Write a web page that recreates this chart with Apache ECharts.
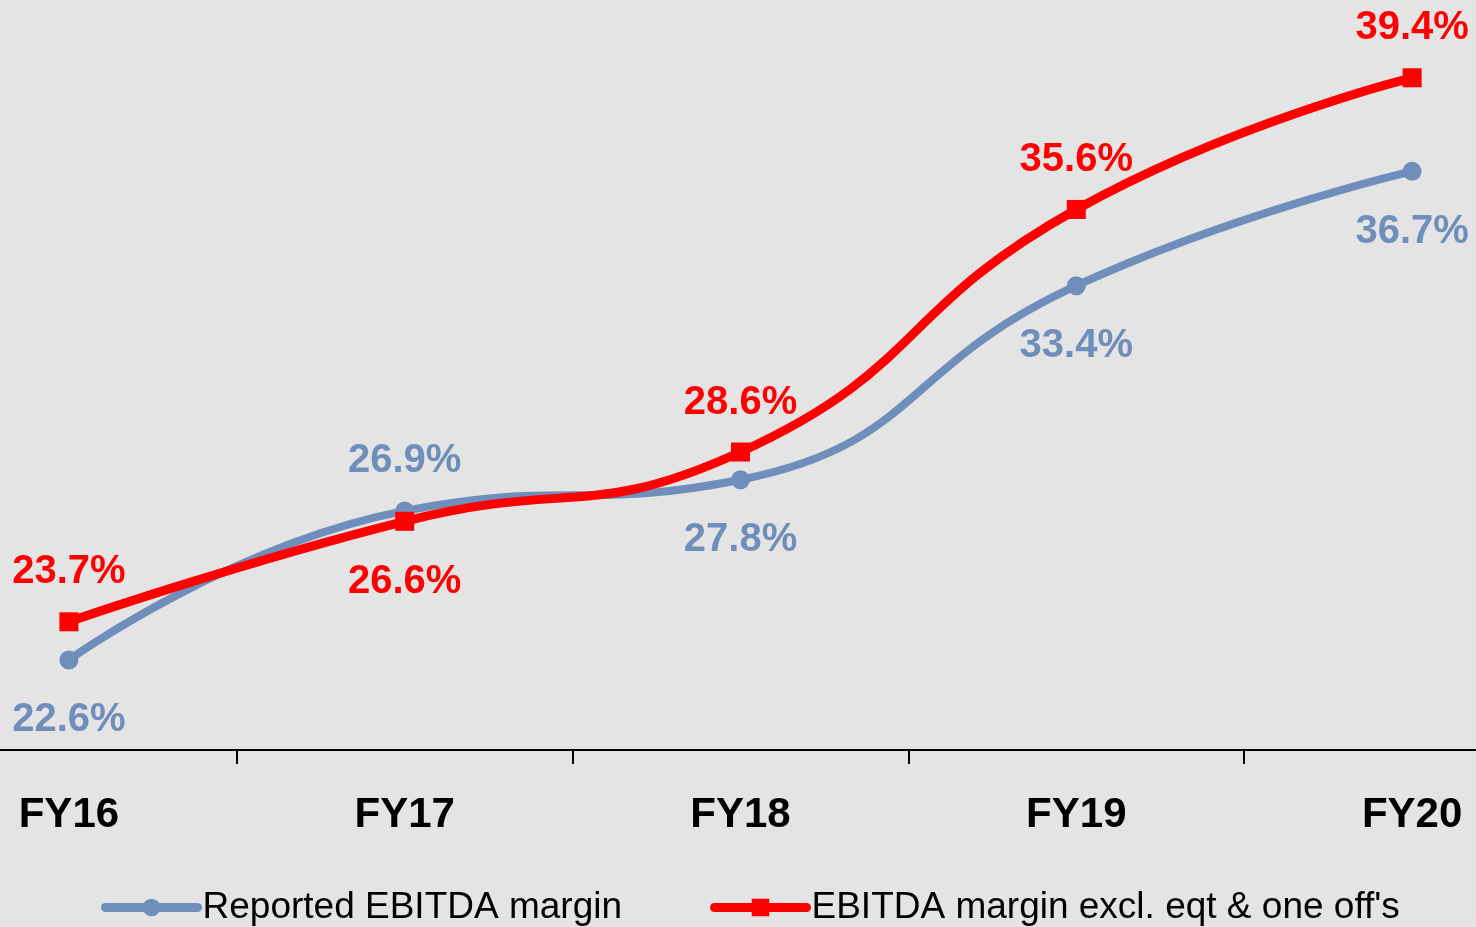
<!DOCTYPE html>
<html>
<head>
<meta charset="utf-8">
<script src="https://cdn.jsdelivr.net/npm/echarts@6/dist/echarts.min.js"></script>
<style>
  html, body { margin: 0; padding: 0; background: #e4e4e4; }
  #main { width: 1476px; height: 927px; }
</style>
</head>
<body>
<div id="main"></div>
<script>
  // chart data
  var years = ['FY16', 'FY17', 'FY18', 'FY19', 'FY20'];
  var reported = [22.6, 26.9, 27.8, 33.4, 36.7];
  var exclOneOffs = [23.7, 26.6, 28.6, 35.6, 39.4];

  // label side for each point
  var reportedLabelPos = ['bottom', 'top', 'bottom', 'bottom', 'bottom'];
  var exclLabelPos = ['top', 'bottom', 'top', 'top', 'top'];

  var blue = '#6f8ebb';
  var red = '#ff0000';

  function withLabels(values, sides) {
    return values.map(function (v, i) {
      return {
        value: v,
        label: { position: sides[i], distance: sides[i] === 'top' ? 20 : 31 }
      };
    });
  }

  var myChart = echarts.init(document.getElementById('main'));

  var option = {
    backgroundColor: '#e4e4e4',
    animation: false,
    grid: {
      left: -99,
      width: 1679,
      top: 57,
      bottom: 177,
      containLabel: false,
      outerBoundsMode: 'none'
    },
    legend: {
      left: 96,
      top: 884,
      itemWidth: 92,
      itemHeight: 22,
      itemGap: 88,
      textStyle: {
        fontFamily: 'Liberation Sans',
        fontSize: 37,
        color: '#000'
      },
      data: [
        { name: 'Reported EBITDA margin', lineStyle: { width: 9, cap: 'round' } },
        { name: "EBITDA margin excl. eqt & one off's", lineStyle: { width: 9, cap: 'round' } }
      ]
    },
    xAxis: {
      type: 'category',
      data: years,
      boundaryGap: true,
      axisLine: { lineStyle: { color: '#000', width: 2 } },
      axisTick: { show: true, length: 14, lineStyle: { color: '#000', width: 2 } },
      axisLabel: {
        margin: 44,
        fontFamily: 'Liberation Sans',
        fontWeight: 'bold',
        fontSize: 42,
        color: '#000'
      }
    },
    yAxis: {
      type: 'value',
      min: 20,
      max: 40,
      show: false,
      splitLine: { show: false }
    },
    series: [
      {
        name: 'Reported EBITDA margin',
        type: 'line',
        smooth: 0.5,
        symbol: 'circle',
        symbolSize: 19,
        data: withLabels(reported, reportedLabelPos),
        itemStyle: { color: blue },
        lineStyle: { color: blue, width: 8 },
        label: {
          show: true,
          formatter: '{c}%',
          fontFamily: 'Liberation Sans',
          fontWeight: 'bold',
          fontSize: 40,
          color: blue
        }
      },
      {
        name: "EBITDA margin excl. eqt & one off's",
        type: 'line',
        smooth: 0.5,
        symbol: 'rect',
        symbolSize: 19,
        data: withLabels(exclOneOffs, exclLabelPos),
        itemStyle: { color: red },
        lineStyle: { color: red, width: 9 },
        label: {
          show: true,
          formatter: '{c}%',
          fontFamily: 'Liberation Sans',
          fontWeight: 'bold',
          fontSize: 40,
          color: red
        }
      }
    ]
  };

  myChart.setOption(option);
</script>
</body>
</html>
